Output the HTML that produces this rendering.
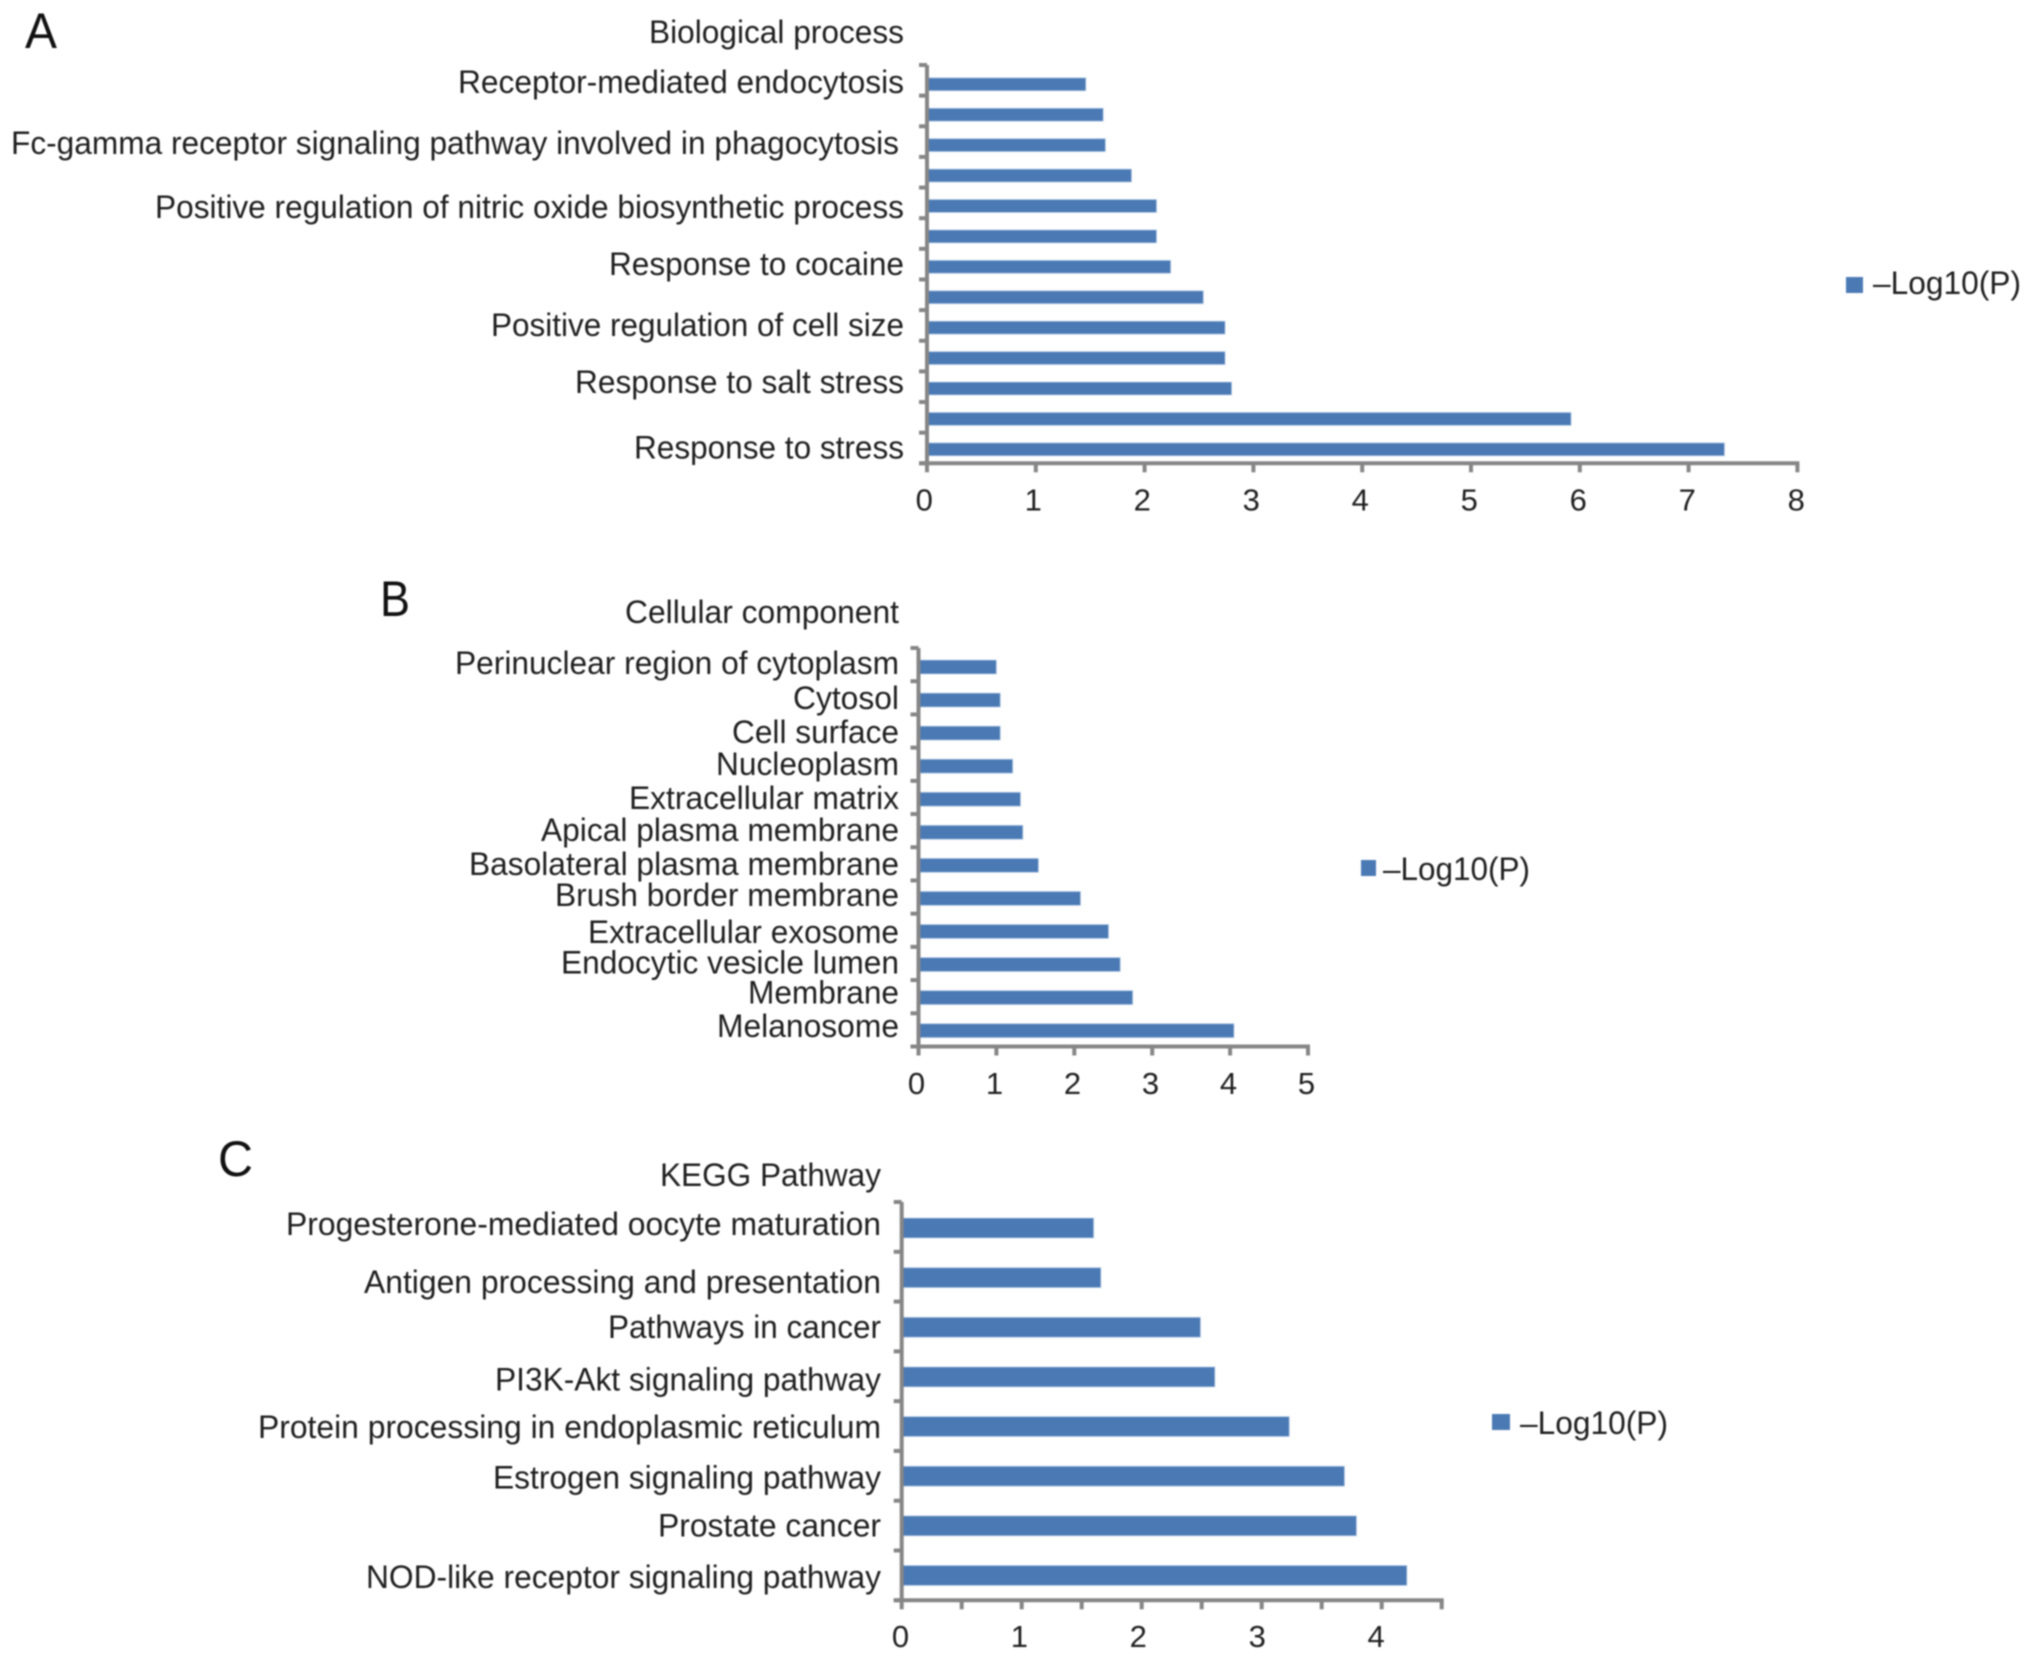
<!DOCTYPE html>
<html lang="en">
<head>
<meta charset="utf-8">
<title>GO and KEGG enrichment bar charts</title>
<style>
html,body{margin:0;padding:0;background:#fff;width:2032px;height:1660px;overflow:hidden}
svg{display:block;filter:blur(0.8px)}
text{font-family:"Liberation Sans",Arial,sans-serif;fill:#1f1f1f}
.lab{font-size:32px;transform:translateY(1px)}
.panel{font-size:50px;fill:#111}
.tick{font-size:31px;text-anchor:middle}
</style>
</head>
<body>
<svg id="figure" xmlns="http://www.w3.org/2000/svg" width="2032" height="1660" viewBox="0 0 2032 1660">
<rect width="2032" height="1660" fill="#fff"/>

<g id="panel-a">
<text class="panel" x="25" y="48" textLength="32" lengthAdjust="spacingAndGlyphs">A</text>
<text class="lab" x="649" y="42" textLength="255" lengthAdjust="spacingAndGlyphs">Biological process</text>
<text class="lab" x="458" y="92" textLength="446" lengthAdjust="spacingAndGlyphs">Receptor-mediated endocytosis</text>
<text class="lab" x="11" y="153" textLength="888" lengthAdjust="spacingAndGlyphs">Fc-gamma receptor signaling pathway involved in phagocytosis</text>
<text class="lab" x="155" y="217" textLength="749" lengthAdjust="spacingAndGlyphs">Positive regulation of nitric oxide biosynthetic process</text>
<text class="lab" x="609" y="274" textLength="295" lengthAdjust="spacingAndGlyphs">Response to cocaine</text>
<text class="lab" x="491" y="335" textLength="413" lengthAdjust="spacingAndGlyphs">Positive regulation of cell size</text>
<text class="lab" x="575" y="392" textLength="329" lengthAdjust="spacingAndGlyphs">Response to salt stress</text>
<text class="lab" x="634" y="457.5" textLength="270" lengthAdjust="spacingAndGlyphs">Response to stress</text>
<rect x="1846" y="277" width="17" height="16" fill="#4a79b4"/>
<text class="lab" x="1873" y="293" textLength="148" lengthAdjust="spacingAndGlyphs">–Log10(P)</text>
</g>

<g id="panel-b">
<text class="panel" x="380" y="616" textLength="30" lengthAdjust="spacingAndGlyphs">B</text>
<text class="lab" x="625" y="622" textLength="274" lengthAdjust="spacingAndGlyphs">Cellular component</text>
<text class="lab" x="455" y="673" textLength="444" lengthAdjust="spacingAndGlyphs">Perinuclear region of cytoplasm</text>
<text class="lab" x="793" y="708" textLength="106" lengthAdjust="spacingAndGlyphs">Cytosol</text>
<text class="lab" x="732" y="742" textLength="167" lengthAdjust="spacingAndGlyphs">Cell surface</text>
<text class="lab" x="716" y="774" textLength="183" lengthAdjust="spacingAndGlyphs">Nucleoplasm</text>
<text class="lab" x="629" y="808" textLength="270" lengthAdjust="spacingAndGlyphs">Extracellular matrix</text>
<text class="lab" x="541" y="840" textLength="358" lengthAdjust="spacingAndGlyphs">Apical plasma membrane</text>
<text class="lab" x="469" y="874" textLength="430" lengthAdjust="spacingAndGlyphs">Basolateral plasma membrane</text>
<text class="lab" x="555" y="905" textLength="344" lengthAdjust="spacingAndGlyphs">Brush border membrane</text>
<text class="lab" x="588" y="942" textLength="311" lengthAdjust="spacingAndGlyphs">Extracellular exosome</text>
<text class="lab" x="561" y="972.5" textLength="338" lengthAdjust="spacingAndGlyphs">Endocytic vesicle lumen</text>
<text class="lab" x="748" y="1002.5" textLength="151" lengthAdjust="spacingAndGlyphs">Membrane</text>
<text class="lab" x="717" y="1036" textLength="182" lengthAdjust="spacingAndGlyphs">Melanosome</text>
<rect x="1361" y="860" width="15" height="16" fill="#4a79b4"/>
<text class="lab" x="1383" y="879" textLength="147" lengthAdjust="spacingAndGlyphs">–Log10(P)</text>
</g>

<g id="panel-c">
<text class="panel" x="218" y="1176" textLength="35" lengthAdjust="spacingAndGlyphs">C</text>
<text class="lab" x="660" y="1185" textLength="221" lengthAdjust="spacingAndGlyphs">KEGG Pathway</text>
<text class="lab" x="286" y="1234" textLength="595" lengthAdjust="spacingAndGlyphs">Progesterone-mediated oocyte maturation</text>
<text class="lab" x="364" y="1292" textLength="517" lengthAdjust="spacingAndGlyphs">Antigen processing and presentation</text>
<text class="lab" x="608" y="1337" textLength="273" lengthAdjust="spacingAndGlyphs">Pathways in cancer</text>
<text class="lab" x="495" y="1389.5" textLength="386" lengthAdjust="spacingAndGlyphs">PI3K-Akt signaling pathway</text>
<text class="lab" x="258" y="1437" textLength="623" lengthAdjust="spacingAndGlyphs">Protein processing in endoplasmic reticulum</text>
<text class="lab" x="493" y="1487.5" textLength="388" lengthAdjust="spacingAndGlyphs">Estrogen signaling pathway</text>
<text class="lab" x="658" y="1535.5" textLength="223" lengthAdjust="spacingAndGlyphs">Prostate cancer</text>
<text class="lab" x="366" y="1587" textLength="515" lengthAdjust="spacingAndGlyphs">NOD-like receptor signaling pathway</text>
<rect x="1492" y="1414" width="18" height="16" fill="#4a79b4"/>
<text class="lab" x="1520" y="1433" textLength="148" lengthAdjust="spacingAndGlyphs">–Log10(P)</text>
</g>
</svg>

<script>
var categoriesA = ["Receptor-mediated endocytosis", "unlabeled-2", "Fc-gamma receptor signaling pathway involved in phagocytosis", "unlabeled-4", "Positive regulation of nitric oxide biosynthetic process", "unlabeled-6", "Response to cocaine", "unlabeled-8", "Positive regulation of cell size", "unlabeled-10", "Response to salt stress", "unlabeled-12", "Response to stress"];
var valuesA = [1.46, 1.62, 1.64, 1.88, 2.11, 2.11, 2.24, 2.54, 2.74, 2.74, 2.80, 5.92, 7.33];
var tickValuesA = [0, 1, 2, 3, 4, 5, 6, 7, 8];
var tickLabelsA = ["0", "1", "2", "3", "4", "5", "6", "7", "8"];

var categoriesB = ["Perinuclear region of cytoplasm", "Cytosol", "Cell surface", "Nucleoplasm", "Extracellular matrix", "Apical plasma membrane", "Basolateral plasma membrane", "Brush border membrane", "Extracellular exosome", "Endocytic vesicle lumen", "Membrane", "Melanosome"];
var valuesB = [1.00, 1.05, 1.05, 1.21, 1.31, 1.34, 1.54, 2.08, 2.44, 2.59, 2.75, 4.05];
var tickValuesB = [0, 1, 2, 3, 4, 5];
var tickLabelsB = ["0", "1", "2", "3", "4", "5"];

var categoriesC = ["Progesterone-mediated oocyte maturation", "Antigen processing and presentation", "Pathways in cancer", "PI3K-Akt signaling pathway", "Protein processing in endoplasmic reticulum", "Estrogen signaling pathway", "Prostate cancer", "NOD-like receptor signaling pathway"];
var valuesC = [1.60, 1.66, 2.49, 2.61, 3.23, 3.69, 3.79, 4.21];
var tickValuesC = [0, 0.5, 1, 1.5, 2, 2.5, 3, 3.5, 4, 4.5];
var tickLabelsC = ["0", "1", "2", "3", "4"];

var SVG_NS = "http://www.w3.org/2000/svg";

function make(tag, parent, attrs) {
  var el = document.createElementNS(SVG_NS, tag);
  for (var k in attrs) { el.setAttribute(k, attrs[k]); }
  parent.appendChild(el);
  return el;
}

function drawChart(id, categories, values, tickValues, tickLabels, g) {
  var panel = document.getElementById(id);
  var xScale = function (v) { return g.x0 + v * g.unit; };
  var labelScale = function (v) { return g.labelX0 + v * g.labelUnit; };
  var yBand = function (i) { return g.firstCenter + i * g.step; };
  var yTick = function (i) { return g.top + i * (g.base - g.top) / categories.length; };
  var xMax = tickValues[tickValues.length - 1];

  values.forEach(function (v, i) {
    var bar = make("rect", panel, {
      x: xScale(0), y: yBand(i) - g.barH / 2, width: xScale(v) - xScale(0), height: g.barH,
      fill: "#4a79b4", stroke: "#c3d6ec", "stroke-width": 1, "stroke-opacity": 0.7
    });
    
    
  });

  var yAxis = make("line", panel, { x1: xScale(0), x2: xScale(0), y1: g.top, y2: g.base, stroke: "#868686", "stroke-width": 4 });
  
  

  var xAxis = make("line", panel, { x1: xScale(0) - 8, x2: xScale(xMax) + 2, y1: g.base, y2: g.base, stroke: "#868686", "stroke-width": 4 });
  
  

  for (var i = 0; i <= categories.length; i++) {
    var yt = make("line", panel, { x1: xScale(0) - 8, x2: xScale(0), y1: yTick(i), y2: yTick(i), stroke: "#868686", "stroke-width": 4 });
    
    
  }

  tickValues.forEach(function (v) {
    var xt = make("line", panel, { x1: xScale(v), x2: xScale(v), y1: g.base, y2: g.base + 9, stroke: "#868686", "stroke-width": 4 });
    
    
  });

  tickLabels.forEach(function (t) {
    var lab = make("text", panel, { "class": "tick", x: labelScale(Number(t)), y: g.labelY });
    lab.textContent = t;
    
    
  });
}

drawChart("panel-a", categoriesA, valuesA, tickValuesA, tickLabelsA, {
  x0: 927, unit: 108.8, top: 65, base: 463.3, firstCenter: 84.3, step: 30.42, barH: 13,
  labelX0: 924.3, labelUnit: 109, labelY: 510.5
});
drawChart("panel-b", categoriesB, valuesB, tickValuesB, tickLabelsB, {
  x0: 918.5, unit: 77.9, top: 648, base: 1046.5, firstCenter: 667, step: 33.06, barH: 14,
  labelX0: 916.5, labelUnit: 78, labelY: 1094
});
drawChart("panel-c", categoriesC, valuesC, tickValuesC, tickLabelsC, {
  x0: 901.7, unit: 120, top: 1202, base: 1600.3, firstCenter: 1228, step: 49.64, barH: 20,
  labelX0: 900.5, labelUnit: 118.9, labelY: 1647
});
</script>
</body>
</html>
